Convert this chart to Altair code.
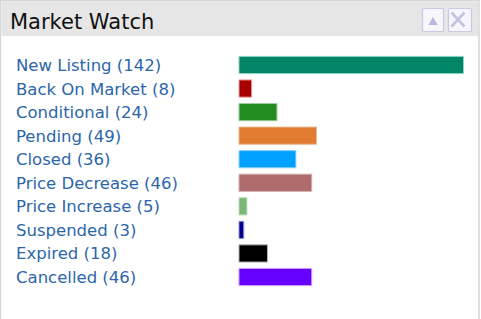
import altair as alt
import pandas as pd

categories = ["New Listing", "Back On Market", "Conditional", "Pending", "Closed",
              "Price Decrease", "Price Increase", "Suspended", "Expired", "Cancelled"]
counts = [142, 8, 24, 49, 36, 46, 5, 3, 18, 46]
fills = ["#008566", "#a80000", "#228b22", "#e07b30", "#00a0ff",
         "#b06c6c", "#78b878", "#00008b", "#000000", "#6600ff"]
strokes = ["#8fd3c3", "#e89a9a", "#9ccc9c", "#e8b890", "#8fd0ff",
           "#d0b0b0", "#b8dcb8", "#9090e0", "#b0b0b0", "#c8a0ff"]

df = pd.DataFrame({
    "cat": categories,
    "n": counts,
    "label": [f"{c} ({n})" for c, n in zip(categories, counts)],
    "fill": fills,
    "stroke": strokes,
})

W, H = 481, 319
one = alt.Data(values=[{"a": 1}])

yscale = alt.Scale(domain=categories, range=[53.2, 288.8], paddingInner=0.27, paddingOuter=0.135)
xscale = alt.Scale(domain=[0, 142], range=[239, 463.5], zero=True, nice=False)

panel = alt.Chart(one).mark_rect(fill="white", stroke="#d6d6d6", strokeWidth=1.5).encode(
    x=alt.value(0.5), x2=alt.value(479), y=alt.value(0.5), y2=alt.value(330))
header = alt.Chart(one).mark_rect(fill="#e6e6e6").encode(
    x=alt.value(1.5), x2=alt.value(478), y=alt.value(1.5), y2=alt.value(36))
title = alt.Chart(one).mark_text(text="Market Watch", align="left", baseline="alphabetic",
                                 font="DejaVu Sans", fontSize=21, color="#111111").encode(
    x=alt.value(10), y=alt.value(29))
box1 = alt.Chart(one).mark_rect(fill="#f6f6fb", stroke="#c9c9e3", strokeWidth=1.2, cornerRadius=1).encode(
    x=alt.value(422.5), x2=alt.value(443.5), y=alt.value(8.5), y2=alt.value(31.5))
box2 = alt.Chart(one).mark_rect(fill="#f6f6fb", stroke="#c9c9e3", strokeWidth=1.2, cornerRadius=1).encode(
    x=alt.value(448.5), x2=alt.value(471.5), y=alt.value(8.5), y2=alt.value(31.5))
tri = alt.Chart(one).mark_point(shape="triangle-up", filled=True, color="#b9b9dd", size=90, opacity=1).encode(
    x=alt.value(433), y=alt.value(21))
x1 = alt.Chart(one).mark_rule(color="#c3c3e0", strokeWidth=2.6).encode(
    x=alt.value(451.5), x2=alt.value(464.5), y=alt.value(12.5), y2=alt.value(26.5))
x2 = alt.Chart(one).mark_rule(color="#c3c3e0", strokeWidth=2.6).encode(
    x=alt.value(464.5), x2=alt.value(451.5), y=alt.value(12.5), y2=alt.value(26.5))

bars = alt.Chart(df).mark_bar(strokeWidth=1).encode(
    y=alt.Y("cat:N", scale=yscale, axis=None, sort=categories),
    x=alt.X("n:Q", scale=xscale, axis=None),
    x2=alt.value(240.5),
    fill=alt.Fill("fill:N", scale=None),
    stroke=alt.Stroke("stroke:N", scale=None),
)
labels = alt.Chart(df).mark_text(align="left", baseline="middle", font="DejaVu Sans",
                                 fontSize=16.5, color="#2b66aa", dy=1).encode(
    y=alt.Y("cat:N", scale=yscale, axis=None, sort=categories),
    x=alt.value(16),
    text="label:N",
)

chart = alt.layer(panel, header, title, box1, box2, tri, x1, x2, bars, labels).properties(
    width=W, height=H, padding=0, autosize="none", background="white"
).configure_view(stroke=None)

chart.save("out.html", embed_options={"renderer": "svg", "actions": False})
